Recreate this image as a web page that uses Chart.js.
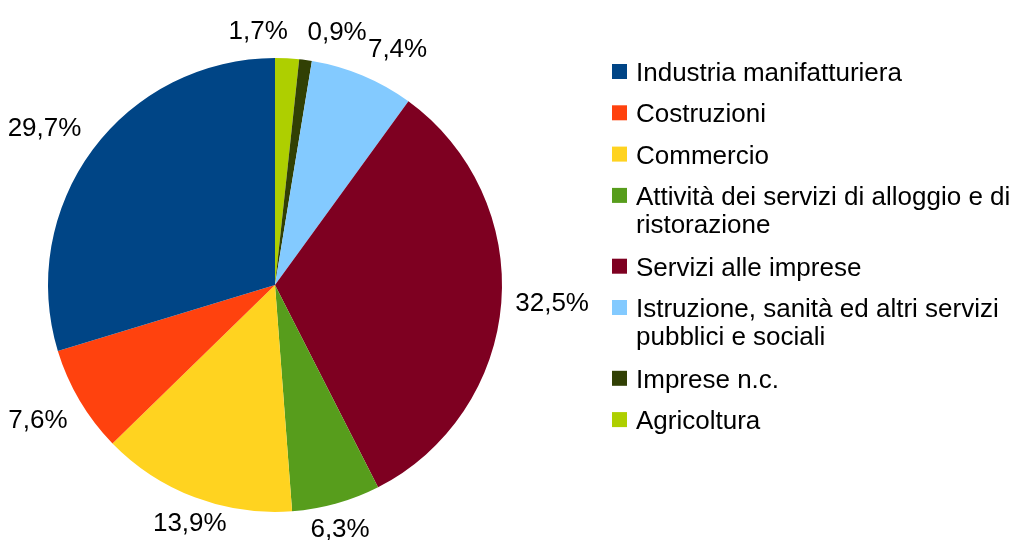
<!DOCTYPE html>
<html>
<head>
<meta charset="utf-8">
<script src="https://cdn.jsdelivr.net/npm/chart.js@4"></script>
<style>
  body { margin: 0; background: #fff; }
</style>
</head>
<body>
<canvas id="myPieChart" width="1019" height="540"></canvas>
<script>
// legend order (the pie runs the other way round, from 12 o'clock clockwise)
var categories = [
  "Industria manifatturiera",
  "Costruzioni",
  "Commercio",
  "Attività dei servizi di alloggio e di\nristorazione",
  "Servizi alle imprese",
  "Istruzione, sanità ed altri servizi\npubblici e sociali",
  "Imprese n.c.",
  "Agricoltura"
];
var shares = [29.7, 7.6, 13.9, 6.3, 32.5, 7.4, 0.9, 1.7];
var sliceColors = [
  "#004586",
  "#ff420e",
  "#ffd320",
  "#579d1c",
  "#7e0021",
  "#83caff",
  "#314004",
  "#aecf00"
];

var FONT = '26px "Liberation Sans", Arial, sans-serif';

function fmt(v){
  return v.toFixed(1).replace(".", ",") + "%";
}

// percentages outside the slices, placed like the office suite does
var pieLabels = {
  id: "pieLabels",
  afterDatasetsDraw: function(chart){
    var ctx = chart.ctx;
    var meta = chart.getDatasetMeta(0);
    var vals = chart.data.datasets[0].data;
    ctx.save();
    ctx.font = FONT;
    ctx.fillStyle = "#000";
    var items = [];
    meta.data.forEach(function(arc, i){
      var p = arc.getProps(["x", "y", "startAngle", "endAngle", "outerRadius"], true);
      var mid = (p.startAngle + p.endAngle) / 2;
      var r = p.outerRadius + 14;
      var px = p.x + Math.cos(mid) * r;
      var py = p.y + Math.sin(mid) * r;
      var deg = (-mid * 180 / Math.PI) % 360;
      if (deg < 0) deg += 360;
      var sector = Math.round(deg / 45) % 8;
      var h = "center", v = "middle";
      if (sector == 0 || sector == 1 || sector == 7) h = "left";
      if (sector == 3 || sector == 4 || sector == 5) h = "right";
      if (sector == 1 || sector == 2 || sector == 3) v = "bottom";
      if (sector == 5 || sector == 6 || sector == 7) v = "top";
      var text = fmt(vals[i]);
      items.push({x: px, y: py, h: h, v: v, text: text, w: ctx.measureText(text).width});
    });
    // push apart neighbours that collide at the top/bottom
    function left(it){ return it.h == "left" ? it.x : it.h == "right" ? it.x - it.w : it.x - it.w / 2; }
    for (var i = 0; i < items.length - 1; i++){
      var a = items[i], b = items[i + 1];
      if (a.h == "center" && b.h == "center" && a.v == b.v){
        var la = left(a), lb = left(b);
        if (la < lb + b.w && lb < la + a.w){
          if (a.x < b.x){ a.h = "right"; b.h = "left"; }
          else { a.h = "left"; b.h = "right"; }
        }
      }
    }
    items.forEach(function(it){
      ctx.textAlign = it.h;
      ctx.textBaseline = it.v;
      ctx.fillText(it.text, it.x, it.y);
    });
    ctx.restore();
  }
};

var sideLegend = {
  id: "sideLegend",
  afterDraw: function(chart){
    var ctx = chart.ctx;
    ctx.save();
    ctx.font = FONT;
    ctx.textAlign = "left";
    ctx.textBaseline = "alphabetic";
    var y = 81;
    for (var i = 0; i < categories.length; i++){
      ctx.fillStyle = sliceColors[i];
      ctx.fillRect(612, y - 17, 15, 15);
      ctx.fillStyle = "#000";
      var lines = categories[i].split("\n");
      for (var j = 0; j < lines.length; j++){
        ctx.fillText(lines[j], 636, y + j * 28);
      }
      y += 41.3 + (lines.length - 1) * 29.5;
    }
    ctx.restore();
  }
};

new Chart("myPieChart", {
  type: "pie",
  data: {
    labels: categories.slice().reverse(),
    datasets: [{
      data: shares.slice().reverse(),
      backgroundColor: sliceColors.slice().reverse(),
      borderWidth: 0,
      hoverOffset: 0
    }]
  },
  options: {
    responsive: false,
    animation: false,
    events: [],
    layout: { padding: { left: 48, top: 58, right: 517, bottom: 28 } },
    plugins: {
      legend: { display: false },
      tooltip: { enabled: false }
    }
  },
  plugins: [pieLabels, sideLegend]
});
</script>
</body>
</html>
